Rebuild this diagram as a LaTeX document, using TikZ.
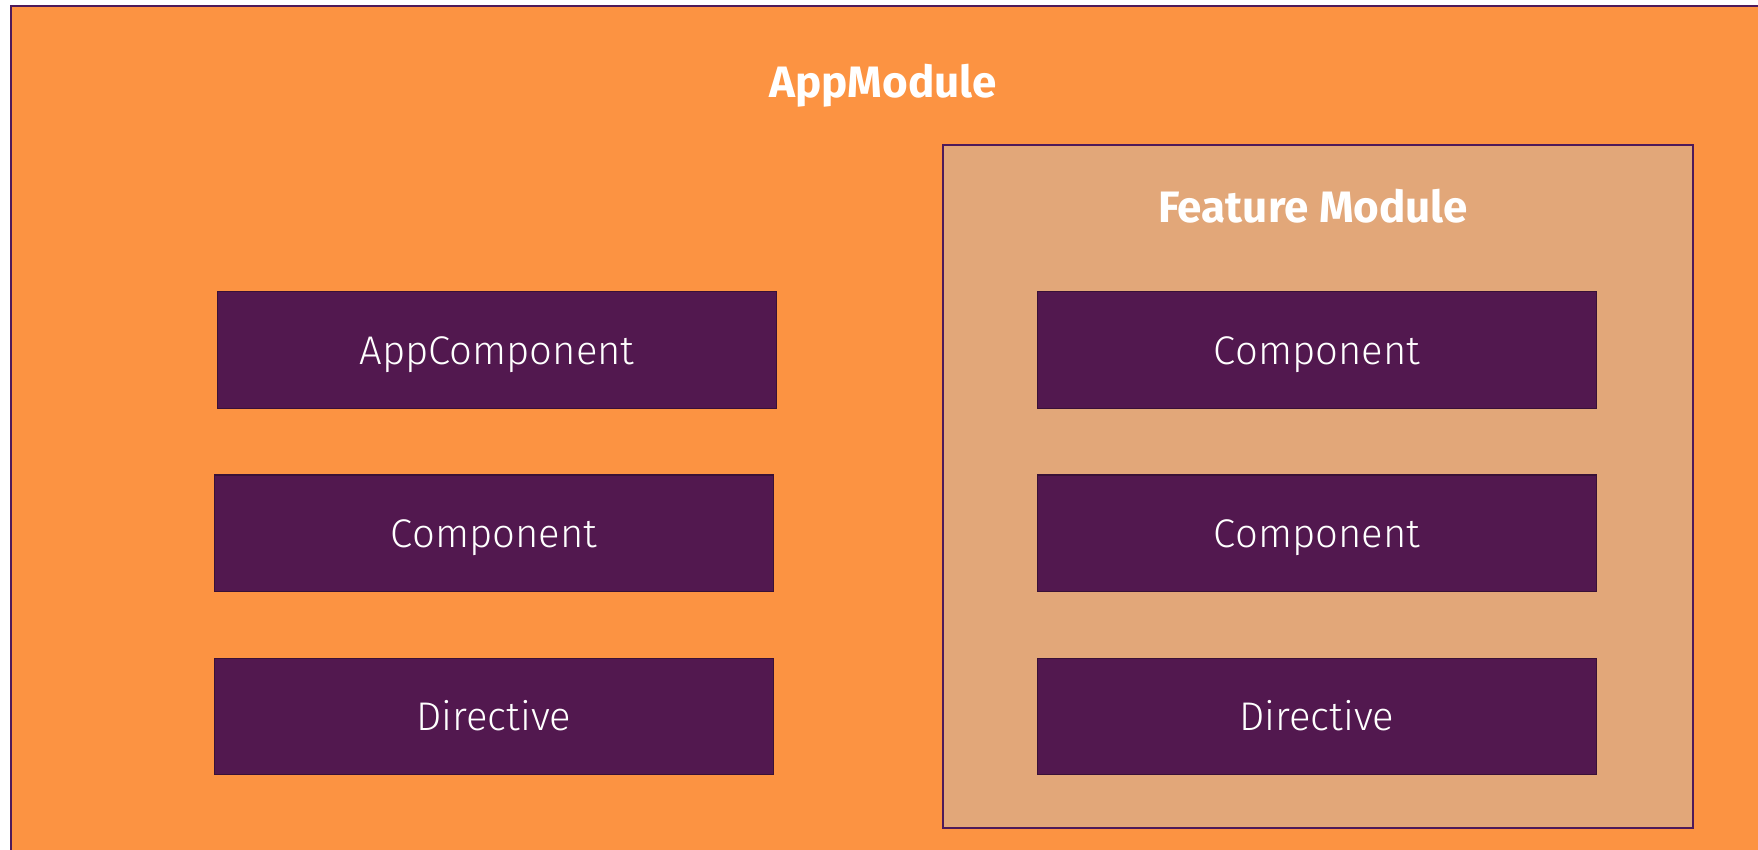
\documentclass[tikz,border=0pt]{standalone}
\usepackage{fontspec}
\setmainfont{Fira Sans}
\newfontfamily\lightfont{Fira Sans}[UprightFont=* Light]
\usepackage{xcolor}
\usetikzlibrary{positioning}

\definecolor{appOrange}{HTML}{FC9342}
\definecolor{featTan}{HTML}{E2A779}
\definecolor{boxPurple}{HTML}{52184F}
\definecolor{edgePurple}{HTML}{4E1A5A}

\begin{document}
\begin{tikzpicture}[x=1pt, y=-1pt, node distance=65.5pt,
    frame/.style={draw=edgePurple, line width=2pt},
    title/.style={text=white, anchor=base, font=\bfseries\fontsize{44}{50}\selectfont},
    part/.style={draw=boxPurple!70!black, fill=boxPurple, line width=1.2pt,
        minimum width=559pt, minimum height=116.5pt, inner sep=0pt,
        text height=28pt, text depth=0pt,
        text=white, font=\lightfont\fontsize{40}{44}\selectfont}
    ]
        \useasboundingbox (0,0) rectangle (1758,849);

        % outer and feature module
        \draw[frame, fill=appOrange] (11,6) rectangle (1764,860);
        \draw[frame, fill=featTan] (943,145) rectangle (1693,828);

        \node[title] (appmodule) at (883,97) {AppModule};
        \node[title] (feature)   at (1313,222) {Feature Module};

        \node[part] (appcomp) at (497,350) {AppComponent};
        \node[part, below=of appcomp, xshift=-3pt] (comp) {Component};
        \node[part, below=of comp] (dir) {Directive};

        \node[part] (fcomp1) at (1317,350) {Component};
        \node[part, below=of fcomp1] (fcomp2) {Component};
        \node[part, below=of fcomp2] (fdir) {Directive};
\end{tikzpicture}
\end{document}
